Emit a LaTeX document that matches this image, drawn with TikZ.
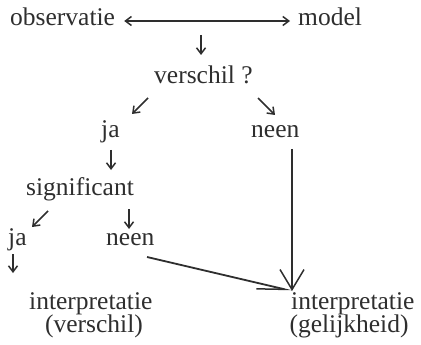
\documentclass[tikz,border=0pt]{standalone}
\usepackage{fontspec}
\setmainfont{Liberation Serif}
\usetikzlibrary{arrows.meta}
\definecolor{ink}{HTML}{2E2E2E}
\begin{document}
\begin{tikzpicture}[x=1pt,y=-1pt,
  lbl/.style={inner sep=0pt, anchor=base west, text=ink,
              font=\fontsize{25.5}{27}\selectfont},
  sub/.style={inner sep=0pt, anchor=base, text=ink,
              font=\fontsize{25.5}{27}\selectfont},
  arr/.style={draw=ink, line width=1.5pt,
              -{Straight Barb[length=6pt,width=9pt]}},
  darr/.style={draw=ink, line width=1.5pt,
              {Straight Barb[length=6pt,width=9pt]}-{Straight Barb[length=6pt,width=9pt]}},
  longv/.style={draw=ink, line width=1.8pt,
              -{Straight Barb[length=20pt,width=24pt,line width=1.5pt]}},
  longd/.style={draw=ink, line width=1.8pt,
              -{Straight Barb[right,length=28pt,width=12pt,line width=1.5pt]}}]
\useasboundingbox (0,0) rectangle (421,345);

% labels
\node[lbl] (obs)  at (10,26)  {observatie};
\node[lbl] (mod)  at (298,26) {model};
\node[lbl] (vers) at (154,84) {verschil ?};
\node[lbl] (ja1)  at (101,138) {ja};
\node[lbl] (nee1) at (251,138) {neen};
\node[lbl] (sig)  at (26,195) {significant};
\node[lbl] (ja2)  at (8,245)  {ja};
\node[lbl] (nee2) at (106,245) {neen};
\node[lbl] (int1) at (29,309) {interpretatie};
\node[sub] (ver1) at (94,332) {(verschil)};
\node[lbl] (int2) at (291,309) {interpretatie};
\node[sub] (gel2) at (349,332) {(gelijkheid)};

% short arrows
\coordinate (d0a) at (201,35);  \coordinate (d0b) at (201,55);
\coordinate (l1a) at (148,98);  \coordinate (l1b) at (132,114);
\coordinate (r1a) at (258,98);  \coordinate (r1b) at (275,115);
\coordinate (d1a) at (111,150); \coordinate (d1b) at (111,170);
\coordinate (l2a) at (48,211);  \coordinate (l2b) at (32,227);
\coordinate (d2a) at (129,209); \coordinate (d2b) at (129,229);
\coordinate (d3a) at (13,254);  \coordinate (d3b) at (13,273);

\draw[darr] ([xshift=9pt,yshift=5pt]obs.base east) -- ([xshift=-8pt,yshift=5pt]mod.base west);
\draw[arr] (d0a) -- (d0b);
\draw[arr] (l1a) -- (l1b);
\draw[arr] (r1a) -- (r1b);
\draw[arr] (d1a) -- (d1b);
\draw[arr] (l2a) -- (l2b);
\draw[arr] (d2a) -- (d2b);
\draw[arr] (d3a) -- (d3b);

% long connectors into the right-hand conclusion
\coordinate (tip) at (292,291);
\coordinate (top) at (292,149);
\coordinate (dst) at (147,257);
\draw[longv] (top) -- (tip);
\draw[longd] (dst) -- (tip);
\end{tikzpicture}
\end{document}
